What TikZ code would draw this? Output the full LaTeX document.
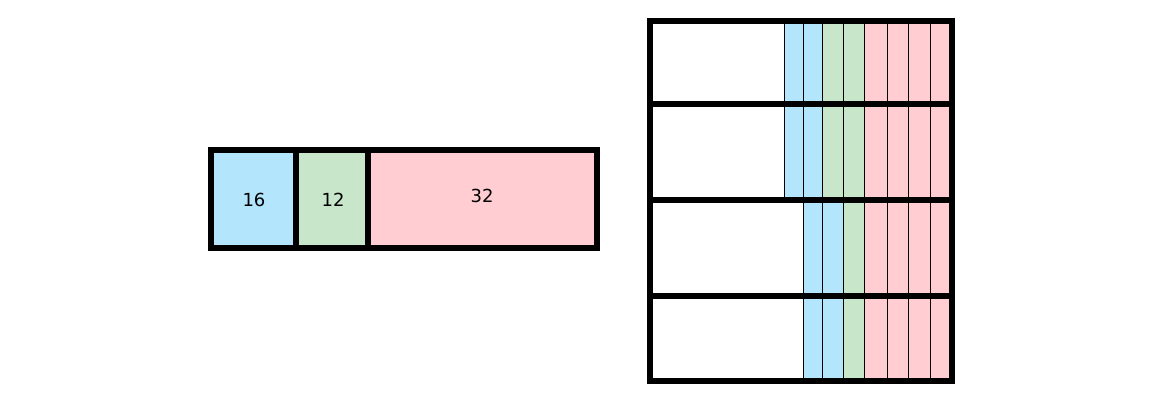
\documentclass[tikz,border=0pt]{standalone}
\usepackage{fontspec}
\setmainfont{DejaVu Sans}
\usepackage{tikz}
\usetikzlibrary{positioning}
\definecolor{bleuclair}{HTML}{B3E5FC}
\definecolor{vertclair}{HTML}{C8E6C9}
\definecolor{roseclair}{HTML}{FFCDD2}
\begin{document}
\begin{tikzpicture}[x=1pt,y=-1pt]
% définition des paramètres
\tikzstyle traitepais=[color=black,line width=6pt,line cap=rect]
\tikzstyle traitfin=[color=black,line width=1pt]
\tikzstyle chiffre=[font=\fontsize{18}{21}\selectfont,inner sep=0pt]
\newcommand{\gauche}{650}  % bord gauche de la grille
\newcommand{\droite}{952}  % bord droit de la grille
\newcommand{\haut}{21}     % bord haut
\newcommand{\milieu}{200}  % séparation des deux blocs de lignes
\newcommand{\bas}{381}     % bord bas

% le cadre
\useasboundingbox (0,0) rectangle (1156,400);

% la barre de gauche
\fill[bleuclair] (211,150) rectangle (296,248);
\fill[vertclair] (296,150) rectangle (368,248);
\fill[roseclair] (368,150) rectangle (597,248);
\draw[traitepais] (211,150) rectangle (597,248);
\draw[traitepais] (296,150) -- (296,248);
\draw[traitepais] (368,150) -- (368,248);
\node[chiffre] (seize) at (254,199.5) {16};
\node[chiffre] (douze) at (333,199.5) {12};
\node[chiffre] (trentedeux) at (482,196) {32};

% les colonnes du haut
\foreach \xa/\xb/\coul in {784.3/803.3/bleuclair,803.3/822.7/bleuclair,822.7/843.7/vertclair,843.7/864.3/vertclair,864.3/887.3/roseclair,887.3/908.7/roseclair,908.7/930.7/roseclair,930.7/\droite/roseclair}
{
    \fill[\coul] (\xa,\haut) rectangle (\xb,\milieu);
    \draw[traitfin] (\xa,\haut) -- (\xa,\milieu);
}
% les colonnes du bas
\foreach \xa/\xb/\coul in {803.3/822.7/bleuclair,822.7/843.7/bleuclair,843.7/864.3/vertclair,864.3/887.3/roseclair,887.3/908.7/roseclair,908.7/930.7/roseclair,930.7/\droite/roseclair}
{
    \fill[\coul] (\xa,\milieu) rectangle (\xb,\bas);
    \draw[traitfin] (\xa,\milieu) -- (\xa,\bas);
}

% la grille
\draw[traitepais] (\gauche,\haut) rectangle (\droite,\bas);
\foreach \y in {104,\milieu,295.5}
    \draw[traitepais] (\gauche,\y) -- (\droite,\y);
\end{tikzpicture}
\end{document}
